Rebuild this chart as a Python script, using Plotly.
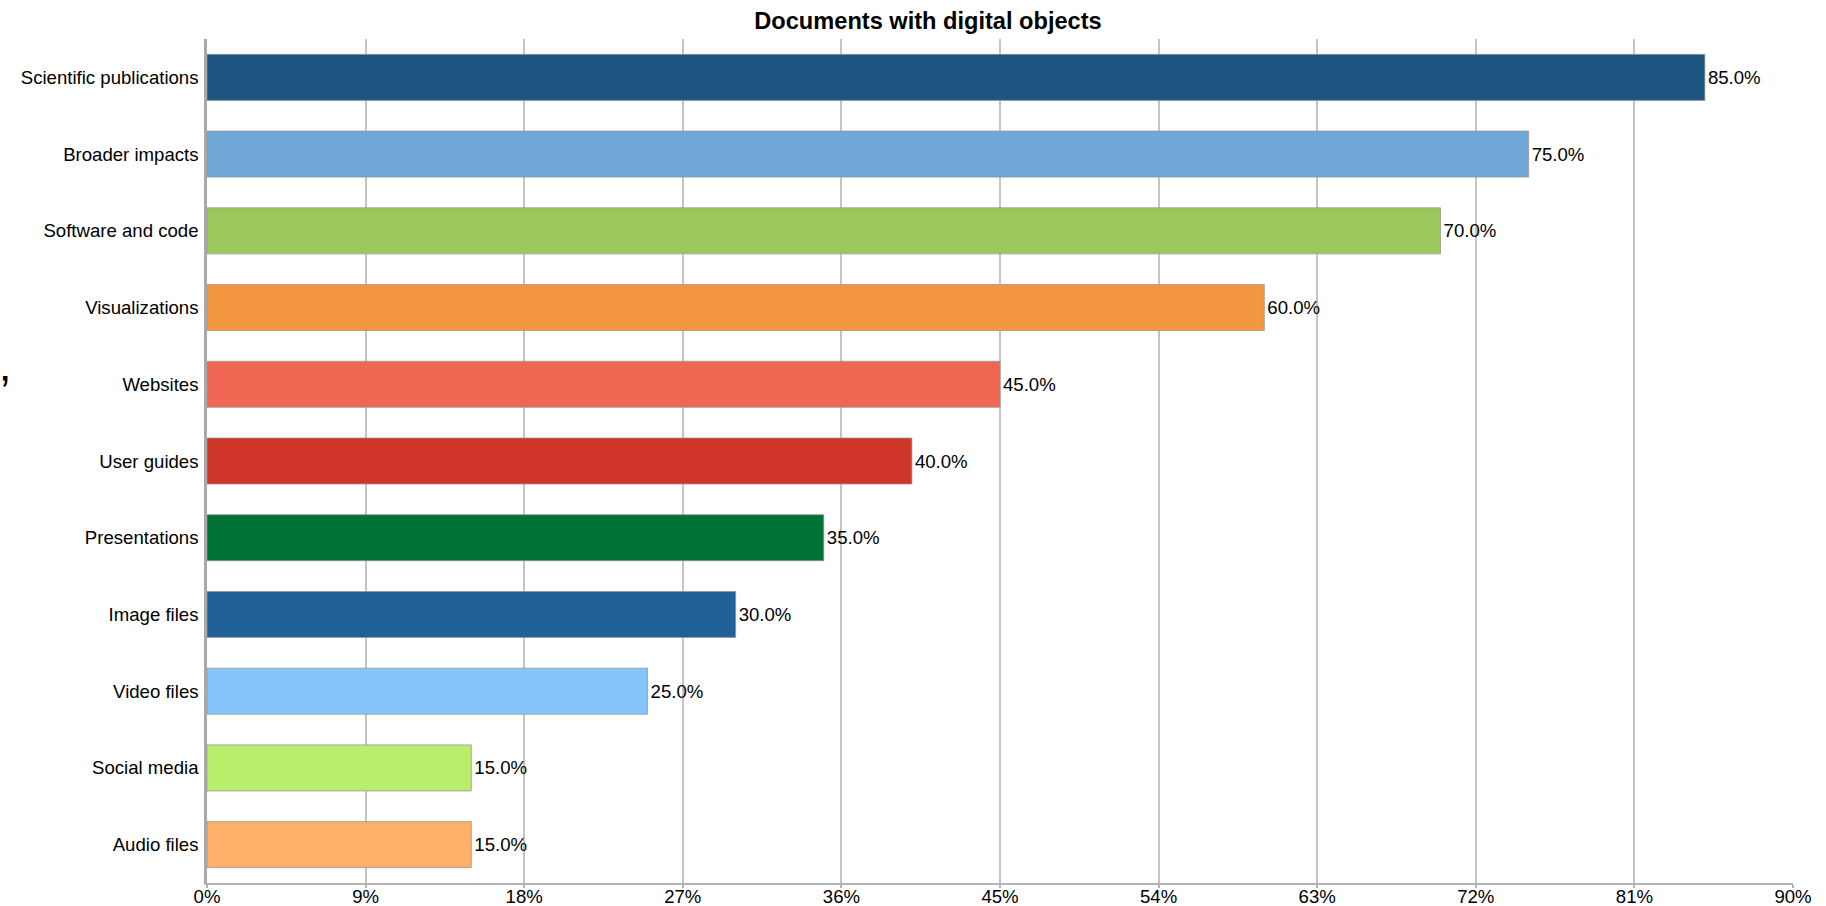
import plotly.graph_objects as go

categories = ["Scientific publications", "Broader impacts", "Software and code", "Visualizations",
              "Websites", "User guides", "Presentations", "Image files", "Video files",
              "Social media", "Audio files"]
values = [85.0, 75.0, 70.0, 60.0, 45.0, 40.0, 35.0, 30.0, 25.0, 15.0, 15.0]
colors = ["#1e5480", "#6fa8d6", "#9bc85a", "#f39640", "#ef6752", "#cf3629",
          "#007234", "#206198", "#84c6fc", "#baed6c", "#feb068"]
x_ticks = [0, 9, 18, 27, 36, 45, 54, 63, 72, 81, 90]
x_ticklabels = [f"{v}%" for v in x_ticks]
title = "Documents with digital objects"

FONT = "Liberation Sans, Arial, Helvetica, sans-serif"
FS = 18.6

L, R, T, B = 207, 33, 39, 23
W, H = 1826, 906
PW = W - L - R
PH = H - T - B

fig = go.Figure(go.Bar(
    x=values, y=categories, orientation="h",
    marker=dict(color=colors, line=dict(color="rgba(150,150,150,0.75)", width=1)),
    width=0.6,
    text=[f"{v:.1f}%" for v in values], textposition="outside",
    textfont=dict(size=FS, color="#000", family=FONT),
    cliponaxis=False,
))

fig.update_layout(
    width=W, height=H,
    margin=dict(l=L, r=R, t=T, b=B, autoexpand=False),
    paper_bgcolor="white", plot_bgcolor="white",
    font=dict(family=FONT, size=FS, color="#000"),
    title=dict(text="<b>" + title + "</b>", x=928 / W, xanchor="center", y=1 - 21 / H, yanchor="middle",
               font=dict(size=23.6, color="#000", family=FONT)),
    showlegend=False,
    uniformtext=dict(mode=False),
)
fig.update_xaxes(
    range=[0, 90], tickvals=x_ticks, ticktext=x_ticklabels,
    showgrid=True, gridcolor="#c4c4c4", gridwidth=1.6,
    showline=True, linecolor="#b4b4b4", linewidth=2,
    ticks="outside", ticklen=3, tickcolor="#b4b4b4", tickwidth=1.6,
    ticklabelstandoff=-7,
    zeroline=False, tickfont=dict(size=FS, color="#000"), automargin=False,
)
fig.update_yaxes(
    categoryorder="array", categoryarray=categories, autorange="reversed",
    showline=True, linecolor="#a8a8a8", linewidth=2.5,
    showgrid=False, zeroline=False, ticks="", ticklabelstandoff=2,
    tickfont=dict(size=FS, color="#000"), automargin=False,
)
fig.add_annotation(text="’", xref="paper", yref="paper", x=-(L + 2) / PW, y=(H - B - 392) / PH,
                   xanchor="left", yanchor="middle", showarrow=False,
                   font=dict(size=46, color="#000", family=FONT))

fig.write_html("out.html")
